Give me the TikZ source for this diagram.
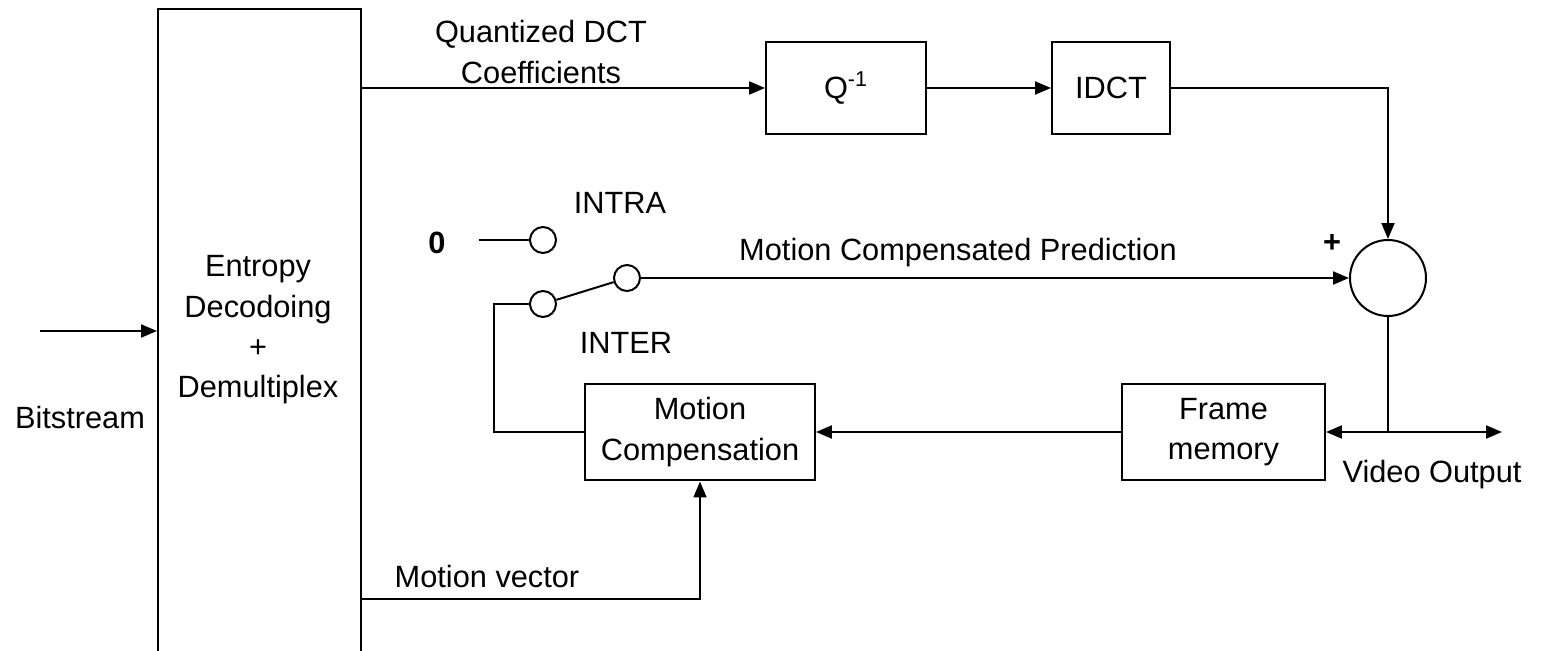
\documentclass[tikz,border=0pt]{standalone}
\usepackage{fontspec}
\setmainfont{Liberation Sans}
\usetikzlibrary{arrows.meta}

\begin{document}
\begin{tikzpicture}[x=0.02cm, y=-0.02cm, >={Triangle[length=0.32cm,width=0.26cm]},
	font=\fontsize{17.5}{23}\selectfont, line width=0.04cm, line join=miter,
	blk/.style={draw, inner sep=0pt, align=center},
	term/.style={draw, circle, minimum size=0.52cm, inner sep=0pt},
	lbl/.style={inner sep=0pt, align=center}]
			\clip (0,0) rectangle (1542,651);
			% blocks
			\node[blk, minimum width=4.06cm, minimum height=13.82cm] (demux) at (259.5,354.5) {};
			\node[lbl] (demuxtxt) at (258,330) {Entropy\\Decodoing\\+\\Demultiplex};
			\node[blk, minimum width=3.2cm, minimum height=1.86cm] (iq) at (846,88) {Q\textsuperscript{-1}};
			\node[blk, minimum width=2.36cm, minimum height=1.86cm] (idct) at (1111,88) {IDCT};
			\node[blk, minimum width=4.6cm, minimum height=1.94cm] (mc) at (700,432) {Motion\\Compensation};
			\node[blk, minimum width=4.06cm, minimum height=1.94cm] (fm) at (1223.5,432) {Frame\\memory};
			\node[draw, circle, minimum size=1.52cm, inner sep=0pt] (sum) at (1388,278) {};
			% switch
			\node[lbl, font=\fontsize{17.5}{23}\selectfont\bfseries] (zero) at (437,243) {0};
			\node[term] (t0) at (543,240) {};
			\node[term] (tin) at (543,304) {};
			\node[term] (tout) at (627,278) {};
			% free ends
			\coordinate (bsin) at (40,331);
			\coordinate (mv) at (0,599);
			\coordinate (loop) at (494,0);
			\coordinate (vout) at (1502,432);
			% labels
			\node[lbl] (coef) at (541,52) {Quantized DCT\\Coefficients};
			\node[lbl] (bits) at (80,418) {Bitstream};
			\node[lbl] (intra) at (620,203) {INTRA};
			\node[lbl] (inter) at (626,343) {INTER};
			\node[lbl, font=\fontsize{17.5}{23}\selectfont\bfseries] (plus) at (1332,243) {+};
			\node[lbl] (mcp) at (958,253) {Motion Compensated Prediction};
			\node[lbl] (mvtxt) at (487,577) {Motion vector};
			\node[lbl] (vidtxt) at (1432,475) {Video Output};
			% connectors
			\draw[->] (bsin) -- (bsin -| demux.west);
			\draw[->] (demux.east |- iq.west) -- (iq.west);
			\draw[->] (iq.east) -- (idct.west);
			\draw[->] (idct.east) -| (sum.north);
			\draw ([xshift=0.64cm]zero.east |- t0.west) -- (t0.west);
			\draw (tin) -- (tout);
			\draw[->] (tout.east) -- (tout.east -| sum.west);
			\draw (tin.west) -- (tin.west -| loop) |- (mc.west);
			\draw[->] (demux.east |- mv) -| (mc.south);
			\draw[->] (fm.west) -- (mc.east);
			\draw (sum.south) -- (sum.south |- fm.east);
			\draw[->] (sum.south |- fm.east) -- (fm.east);
			\draw[->] (sum.south |- fm.east) -- (vout);
		\end{tikzpicture}
\end{document}
